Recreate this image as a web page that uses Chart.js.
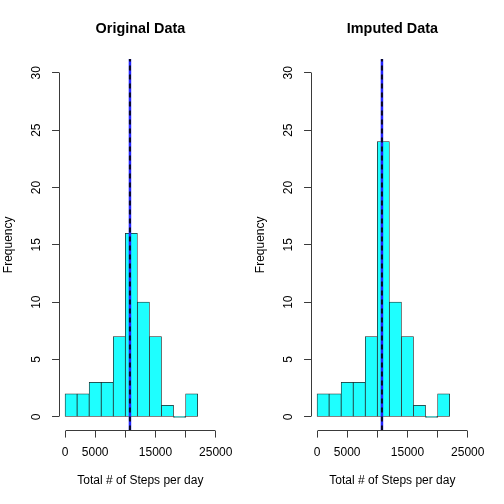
<!DOCTYPE html>
<html>
<head>
<meta charset="utf-8">
<script src="https://cdn.jsdelivr.net/npm/chart.js@4.4.1/dist/chart.umd.min.js"></script>
<style>
  html, body { margin: 0; padding: 0; background: #ffffff; }
  #wrap { width: 504px; height: 504px; display: flex; }
  canvas { display: block; }
</style>
</head>
<body>
<div id="wrap">
  <canvas id="c1" width="252" height="504"></canvas>
  <canvas id="c2" width="252" height="504"></canvas>
</div>
<script>
// ---- data ----
const binStarts = [0, 2000, 4000, 6000, 8000, 10000, 12000, 14000, 16000, 18000, 20000];
const binWidth = 2000;
const originalCounts = [2, 2, 3, 3, 7, 16, 10, 7, 1, 0, 2];
const imputedCounts  = [2, 2, 3, 3, 7, 24, 10, 7, 1, 0, 2];
const originalMean = 10766.19;
const originalMedian = 10765;
const imputedMean = 10766.19;
const imputedMedian = 10766.19;
const xTicks = [0, 5000, 10000, 15000, 20000, 25000];
const xTickLabels = ['0', '5000', '', '15000', '', '25000'];
const yTicks = [0, 5, 10, 15, 20, 25, 30];
const panelTitles = ['Original Data', 'Imputed Data'];
const xTitle = 'Total # of Steps per day';
const yTitle = 'Frequency';
const xRange = [-1000, 26000];
const yRange = [-1.2, 31.2];

const FONT = 'Liberation Sans, Arial, Helvetica, sans-serif';
const AXIS_COLOR = '#3a3a3a';

// R-style axis lines that run only from the first to the last tick
const rAxes = {
  id: 'rAxes',
  afterDraw(chart) {
    const ctx = chart.ctx;
    const xs = chart.scales.x, ys = chart.scales.y;
    const al = v => Math.round(v - 0.5) + 0.5;
    ctx.save();
    ctx.strokeStyle = AXIS_COLOR;
    ctx.lineWidth = 1;
    ctx.beginPath();
    const yb = al(chart.chartArea.bottom);
    ctx.moveTo(al(xs.getPixelForValue(xTicks[0])), yb);
    ctx.lineTo(al(xs.getPixelForValue(xTicks[xTicks.length - 1])), yb);
    const xl = al(chart.chartArea.left);
    ctx.moveTo(xl, al(ys.getPixelForValue(yTicks[0])));
    ctx.lineTo(xl, al(ys.getPixelForValue(yTicks[yTicks.length - 1])));
    ctx.stroke();
    ctx.restore();
  }
};

function makeChart(id, title, counts, mean, median) {
  const bars = counts.map((c, i) => ({ x: binStarts[i] + binWidth / 2, y: c }));
  return new Chart(document.getElementById(id), {
    type: 'bar',
    data: {
      datasets: [
        {
          type: 'line',
          data: [{ x: median, y: yRange[0] }, { x: median, y: yRange[1] }],
          borderColor: '#0a0a20',
          borderWidth: 2,
          borderDash: [5, 4],
          pointRadius: 0,
          order: 1
        },
        {
          type: 'line',
          data: [{ x: mean, y: yRange[0] }, { x: mean, y: yRange[1] }],
          borderColor: '#2222ff',
          borderWidth: 2.5,
          pointRadius: 0,
          order: 2
        },
        {
          type: 'bar',
          data: bars,
          backgroundColor: '#1effff',
          borderColor: '#222222',
          borderWidth: 0.75,
          borderSkipped: false,
          barPercentage: 1,
          categoryPercentage: 1,
          minBarLength: 1,
          order: 3
        }
      ]
    },
    options: {
      responsive: false,
      animation: false,
      layout: { padding: { left: 0, right: 30.24, top: 0, bottom: 0 } },
      plugins: {
        legend: { display: false },
        tooltip: { enabled: false },
        title: {
          display: true,
          text: title,
          fullSize: false,
          color: '#000000',
          font: { family: FONT, size: 14.4, weight: 'bold', lineHeight: 1.2 },
          padding: { top: 20.66, bottom: 21.1 }
        }
      },
      scales: {
        x: {
          type: 'linear',
          min: xRange[0],
          max: xRange[1],
          offset: false,
          grid: { display: true, drawOnChartArea: false, drawTicks: true, tickLength: 7, color: AXIS_COLOR, lineWidth: 1, offset: false },
          border: { display: false },
          afterBuildTicks: s => { s.ticks = xTicks.map(v => ({ value: v })); },
          afterFit: s => { s.height = 73.44; },
          ticks: {
            autoSkip: false,
            minRotation: 0,
            maxRotation: 0,
            padding: 8,
            color: '#000000',
            font: { family: FONT, size: 12 },
            callback: v => xTickLabels[xTicks.indexOf(v)]
          },
          title: {
            display: true,
            text: xTitle,
            color: '#000000',
            font: { family: FONT, size: 12 },
            padding: { top: 0, bottom: 15.7 }
          }
        },
        y: {
          type: 'linear',
          min: yRange[0],
          max: yRange[1],
          grid: { display: true, drawOnChartArea: false, drawTicks: true, tickLength: 7, color: AXIS_COLOR, lineWidth: 1 },
          border: { display: false },
          afterBuildTicks: s => { s.ticks = yTicks.map(v => ({ value: v })); },
          afterFit: s => { s.width = 59.04; },
          ticks: {
            minRotation: 90,
            maxRotation: 90,
            crossAlign: 'center',
            padding: 8.5,
            color: '#000000',
            font: { family: FONT, size: 12 }
          },
          title: {
            display: true,
            text: yTitle,
            color: '#000000',
            font: { family: FONT, size: 12 },
            padding: { top: 1.5, bottom: 0 }
          }
        }
      }
    },
    plugins: [rAxes]
  });
}

makeChart('c1', panelTitles[0], originalCounts, originalMean, originalMedian);
makeChart('c2', panelTitles[1], imputedCounts, imputedMean, imputedMedian);
</script>
</body>
</html>
